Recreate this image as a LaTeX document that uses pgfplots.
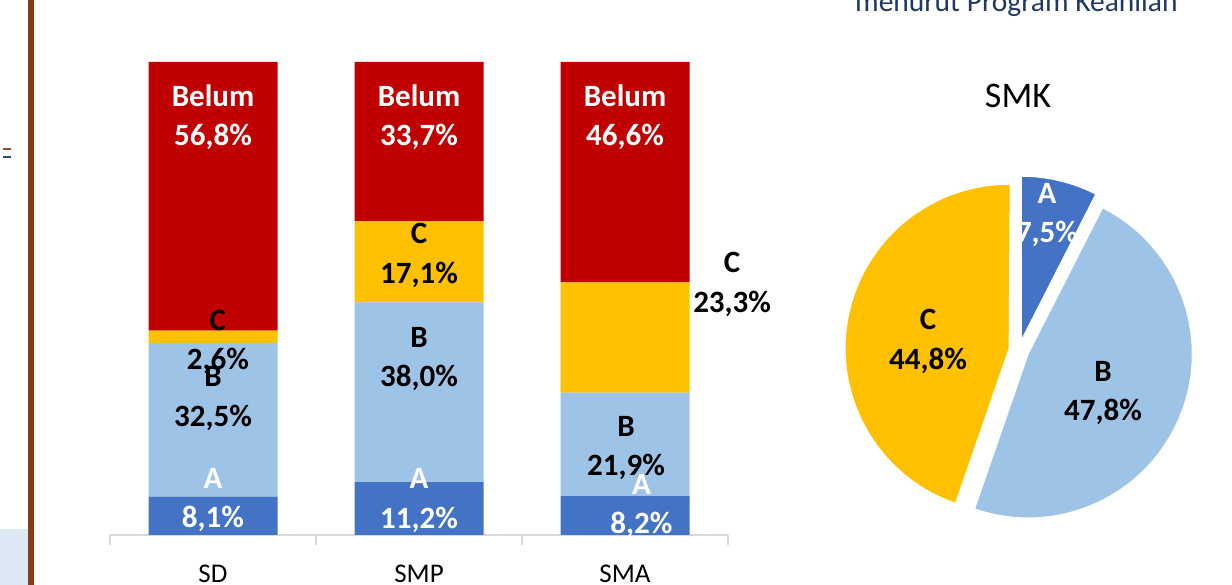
\documentclass[border=0pt]{standalone}
\usepackage{pgfplots}
\pgfplotsset{compat=1.18}
\usepackage{fontspec}
\setmainfont{Carlito}
\definecolor{cA}{HTML}{4472C4}
\definecolor{cB}{HTML}{9DC3E6}
\definecolor{cC}{HTML}{FFC000}
\definecolor{cBel}{HTML}{C00000}
\definecolor{axgray}{HTML}{D9D9D9}
\definecolor{brownline}{HTML}{8B3A0E}
\definecolor{markbrown}{HTML}{A0522D}
\definecolor{markblue}{HTML}{2F4B8A}
\definecolor{titleblue}{HTML}{1F3864}
\definecolor{boxblue}{HTML}{DDE8F5}
\tikzset{
  lbl/.style={font=\bfseries\fontsize{31}{39.5}\selectfont, align=center, inner sep=0pt, text=black},
  lblw/.style={lbl, text=white}
}
% pie slice: #1 cumulative start (%), #2 value (%), #3 colour, #4 explode distance (pt)
\newcommand\pieslice[4]{%
  \pgfmathsetmacro\sa{90-3.6*#1}%
  \pgfmathsetmacro\ea{90-3.6*(#1+#2)}%
  \pgfmathsetmacro\ma{(\sa+\ea)/2}%
  \edef\tmp{\noexpand\fill[#3, draw=white, line width=1pt] (axis cs:0,0) ++(\ma:#4pt) -- ++(\sa:164pt) arc[start angle=\sa, end angle=\ea, radius=164pt] -- cycle;}%
  \tmp}
\pgfplotsset{baraxis/.style={at={(110pt,50pt)}, anchor=south west, scale only axis,
  width=618pt, height=473pt, xmin=-0.5, xmax=2.5, ymin=0, ymax=100, clip=false}}
\begin{document}
\begin{tikzpicture}[x=1pt,y=1pt]
\path[use as bounding box, fill=white] (0,0) rectangle (1232,585);
\fill[boxblue] (0,0) rectangle (28,56);
\fill[brownline] (28,0) rectangle (34,585);
\fill[markbrown] (3,435) rectangle (11,437);
\fill[markblue] (3,427) rectangle (11,429);
\node[anchor=base west, text=titleblue, font=\fontsize{29.5}{32}\selectfont, inner sep=0pt] at (855,573) {menurut Program Keahlian};

\begin{axis}[baraxis,
  ybar stacked, bar width=129pt,
  hide y axis, axis x line*=bottom,
  x axis line style={draw=axgray, line width=1.5pt, -},
  xtick={0,1,2}, xticklabels={SD,SMP,SMA}, major tick length=0pt,
  tick style={draw=axgray, line width=1.5pt},
  xticklabel style={font=\fontsize{27}{30}\selectfont, anchor=base, yshift=-48pt, text=black},
  extra x ticks={-0.5,0.5,1.5,2.5}, extra x tick labels={},
  extra x tick style={major tick length=10pt, tick align=outside},
]
\addplot[fill=cA, draw=none] coordinates {(0,8.1) (1,11.2) (2,8.2)};
\addplot[fill=cB, draw=none] coordinates {(0,32.5) (1,38.0) (2,21.9)};
\addplot[fill=cC, draw=none] coordinates {(0,2.6) (1,17.1) (2,23.3)};
\addplot[fill=cBel, draw=none] coordinates {(0,56.8) (1,33.7) (2,46.6)};
\end{axis}

\begin{axis}[baraxis, hide axis]
% SD
\node[lblw] at (axis cs:0,88.3) {Belum\\56,8\%};
\node[lbl] at (axis cs:0.024,40.8) {C\\2,6\%};
\node[lbl] at (axis cs:0,28.8) {B\\32,5\%};
\node[lblw] at (axis cs:0,7.4) {A\\8,1\%};
% SMP
\node[lblw] at (axis cs:1,88.3) {Belum\\33,7\%};
\node[lbl] at (axis cs:1,59.1) {C\\17,1\%};
\node[lbl] at (axis cs:1,37.2) {B\\38,0\%};
\node[lblw] at (axis cs:1,7.3) {A\\11,2\%};
% SMA
\node[lblw] at (axis cs:2,88.3) {Belum\\46,6\%};
\node[lbl] at (axis cs:2.52,53.0) {C\\23,3\%};
\node[lbl] at (axis cs:2.005,18.4) {B\\21,9\%};
\node[lblw] at (axis cs:2.08,6.1) {A\\8,2\%};
\end{axis}

\begin{axis}[at={(1019pt,235pt)}, anchor=center, scale only axis,
  x=1pt, y=1pt, xmin=-200, xmax=200, ymin=-200, ymax=200,
  hide axis, clip=false]
\pieslice{0}{7.5}{cA}{10}
\pieslice{7.5}{47.8}{cB}{10}
\pieslice{55.3}{44.8}{cC}{10}
\node[lblw] at (axis cs:28,135) {A\\7,5\%};
\node[lbl] at (axis cs:84,-43) {B\\47,8\%};
\node[lbl] at (axis cs:-91,8.5) {C\\44,8\%};
\node[font=\fontsize{36}{40}\selectfont, inner sep=0pt] at (axis cs:-1,254) {SMK};
\end{axis}
\end{tikzpicture}
\end{document}
